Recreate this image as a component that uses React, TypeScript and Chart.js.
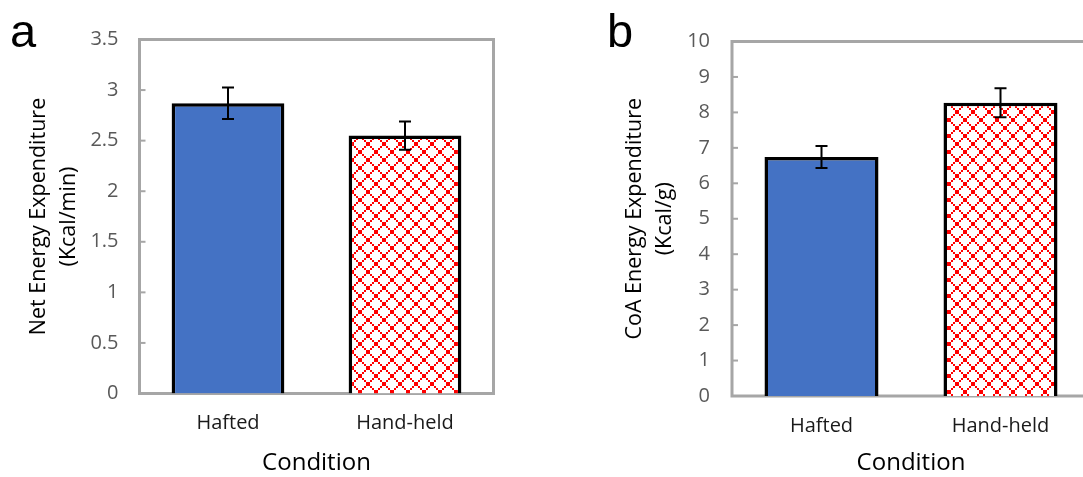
import React, { useEffect, useRef } from "react";
import { Chart, registerables } from "chart.js";

Chart.register(...registerables);

const categories = ["Hafted", "Hand-held"];
const netEnergyValues = [2.87, 2.55];
const netEnergyErrors = [0.155, 0.14];
const coaEnergyValues = [6.74, 8.27];
const coaEnergyErrors = [0.31, 0.41];
const netAxis = { min: 0, max: 3.5, step: 0.5 };
const coaAxis = { min: 0, max: 10, step: 1 };
const netTitle = ["Net Energy Expenditure", "(Kcal/min)"];
const coaTitle = ["CoA Energy Expenditure", "(Kcal/g)"];
const xTitle = "Condition";

const FONT = "'Open Sans', 'DejaVu Sans', sans-serif";

function makeLattice(): CanvasPattern | string {
  const size = 16;
  const c = document.createElement("canvas");
  c.width = size;
  c.height = size;
  const g = c.getContext("2d");
  if (!g) return "#ff0000";
  g.fillStyle = "#ffffff";
  g.fillRect(0, 0, size, size);
  g.fillStyle = "#ff0000";
  for (let i = 0; i < size; i += 2) {
    g.fillRect(i, i, 2, 2);
    g.fillRect(size - 2 - i, i, 2, 2);
  }
  const p = g.createPattern(c, "repeat");
  return p || "#ff0000";
}

interface PanelOpts {
  values: number[];
  errors: number[];
  axis: { min: number; max: number; step: number };
  yTitle: string[];
  yAxisWidth: number;
  xAxisHeight: number;
  padTop: number;
  padRight: number;
  yTitlePad: number;
  tickPad: number;
  letter: string;
  letterX: number;
  pattern: CanvasPattern | string;
}

function buildConfig(o: PanelOpts): any {
  const panelPlugin = {
    id: "panelDecor",
    beforeDatasetsDraw(chart: any) {
      const { ctx, chartArea } = chart;
      const y = chart.scales.y;
      ctx.save();
      ctx.strokeStyle = "#a6a6a6";
      ctx.lineWidth = 3;
      ctx.strokeRect(
        chartArea.left,
        chartArea.top,
        chartArea.right - chartArea.left,
        chartArea.bottom - chartArea.top
      );
      ctx.lineWidth = 2;
      for (const t of y.ticks) {
        const py = y.getPixelForValue(t.value);
        ctx.beginPath();
        ctx.moveTo(chartArea.left, py);
        ctx.lineTo(chartArea.left + 6, py);
        ctx.stroke();
      }
      ctx.restore();
    },
    afterDatasetsDraw(chart: any) {
      const { ctx } = chart;
      const meta = chart.getDatasetMeta(0);
      const y = chart.scales.y;
      ctx.save();
      ctx.strokeStyle = "#000000";
      ctx.lineWidth = 2;
      meta.data.forEach((bar: any, i: number) => {
        const v = o.values[i];
        const e = o.errors[i];
        const x = bar.x;
        const yTop = y.getPixelForValue(v + e);
        const yBot = y.getPixelForValue(v - e);
        ctx.beginPath();
        ctx.moveTo(x, yTop);
        ctx.lineTo(x, yBot);
        ctx.moveTo(x - 6, yTop);
        ctx.lineTo(x + 6, yTop);
        ctx.moveTo(x - 6, yBot);
        ctx.lineTo(x + 6, yBot);
        ctx.stroke();
      });
      ctx.restore();
    },
    afterDraw(chart: any) {
      const { ctx } = chart;
      ctx.save();
      ctx.fillStyle = "#000000";
      ctx.font = "47px 'Liberation Sans', Arial, sans-serif";
      ctx.textBaseline = "alphabetic";
      ctx.textAlign = "left";
      ctx.fillText(o.letter, o.letterX, 47);
      ctx.restore();
    },
  };

  return {
    type: "bar",
    data: {
      labels: categories,
      datasets: [
        {
          data: o.values,
          backgroundColor: ["#4472c4", o.pattern],
          borderColor: "#000000",
          borderWidth: 3.5,
          barPercentage: 0.637,
          categoryPercentage: 1,
        },
      ],
    },
    options: {
      responsive: false,
      animation: false,
      devicePixelRatio: 1,
      layout: { padding: { top: o.padTop, right: o.padRight, left: 0, bottom: 0 } },
      plugins: { legend: { display: false }, tooltip: { enabled: false } },
      scales: {
        x: {
          grid: { display: false, drawTicks: false },
          border: { display: false },
          ticks: { color: "#1a1a1a", font: { family: FONT, size: 20 }, padding: 18 },
          title: {
            display: true,
            text: xTitle,
            color: "#000000",
            font: { family: FONT, size: 24 },
            padding: { top: 0, bottom: -1 },
          },
          afterFit(s: any) {
            s.height = o.xAxisHeight;
          },
        },
        y: {
          min: o.axis.min,
          max: o.axis.max,
          grid: { display: false, drawTicks: false },
          border: { display: false },
          ticks: {
            stepSize: o.axis.step,
            color: "#595959",
            font: { family: FONT, size: 20 },
            padding: o.tickPad,
            callback: (v: any) => String(Number(v)),
          },
          title: {
            display: true,
            text: o.yTitle,
            color: "#000000",
            font: { family: FONT, size: 21.5, lineHeight: 1.4 },
            padding: { top: o.yTitlePad, bottom: 0 },
          },
          afterFit(s: any) {
            s.width = o.yAxisWidth;
          },
        },
      },
    },
    plugins: [panelPlugin],
  };
}

export default function App() {
  const refA = useRef<HTMLCanvasElement>(null);
  const refB = useRef<HTMLCanvasElement>(null);

  useEffect(() => {
    const pattern = makeLattice();
    const a = new Chart(
      refA.current as HTMLCanvasElement,
      buildConfig({
        values: netEnergyValues,
        errors: netEnergyErrors,
        axis: netAxis,
        yTitle: netTitle,
        yAxisWidth: 139.5,
        xAxisHeight: 83.5,
        padTop: 39.5,
        padRight: 47.5,
        yTitlePad: 24,
        tickPad: 21,
        letter: "a",
        letterX: 10,
        pattern,
      })
    );
    const b = new Chart(
      refB.current as HTMLCanvasElement,
      buildConfig({
        values: coaEnergyValues,
        errors: coaEnergyErrors,
        axis: coaAxis,
        yTitle: coaTitle,
        yAxisWidth: 191,
        xAxisHeight: 81,
        padTop: 41.5,
        padRight: 11,
        yTitlePad: 79,
        tickPad: 22,
        letter: "b",
        letterX: 66,
        pattern,
      })
    );
    return () => {
      a.destroy();
      b.destroy();
    };
  }, []);

  return (
    <div
      style={{
        position: "absolute",
        left: 0,
        top: 0,
        width: 1083,
        height: 477,
        overflow: "hidden",
        background: "#ffffff",
      }}
    >
      <canvas
        ref={refA}
        width={541}
        height={477}
        style={{ position: "absolute", left: 0, top: 0, width: 541, height: 477 }}
      />
      <canvas
        ref={refB}
        width={560}
        height={477}
        style={{ position: "absolute", left: 541, top: 0, width: 560, height: 477 }}
      />
    </div>
  );
}
